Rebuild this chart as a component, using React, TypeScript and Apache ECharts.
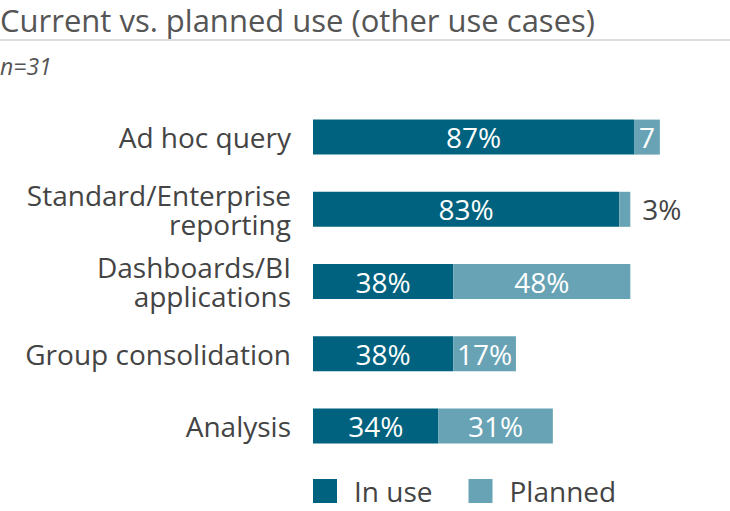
import React, { useEffect, useRef } from "react";
import * as echarts from "echarts";

const categories = [
  "Ad hoc query",
  "Standard/Enterprise\nreporting",
  "Dashboards/BI\napplications",
  "Group consolidation",
  "Analysis",
];
const inUse = [87, 83, 38, 38, 34];
const planned = [7, 3, 48, 17, 31];
const plannedLabels = ["7", "3%", "48%", "17%", "31%"];

const DARK = "#00627e";
const LIGHT = "#67a3b5";
const FONT = "'Open Sans', sans-serif";

export default function App() {
  const ref = useRef<HTMLDivElement>(null);
  useEffect(() => {
    if (!ref.current) return;
    const chart = echarts.init(ref.current, undefined, { renderer: "svg" });
    chart.setOption({
      animation: false,
      textStyle: { fontFamily: FONT },
      title: [
        {
          text: "Current vs. planned use (other use cases)",
          left: -5,
          top: -1,
          textStyle: { fontFamily: FONT, fontSize: 31, fontWeight: "normal", color: "#555" },
        },
        {
          text: "n=31",
          left: -5,
          top: 49,
          textStyle: { fontFamily: FONT, fontSize: 23, fontStyle: "italic", fontWeight: "normal", color: "#555" },
        },
      ],
      graphic: [
        {
          type: "line",
          shape: { x1: 0, y1: 40, x2: 730, y2: 40 },
          style: { stroke: "#dddddd", lineWidth: 2 },
        },
      ],
      legend: {
        left: 308,
        bottom: 1,
        itemWidth: 24,
        itemHeight: 24,
        itemGap: 36,
        icon: "rect",
        textStyle: { fontFamily: FONT, fontSize: 28, color: "#444", padding: [0, 0, 0, 12] },
        data: ["In use", "Planned"],
      },
      grid: { left: 313, right: 48, top: 101, bottom: 49, containLabel: false },
      xAxis: { type: "value", min: 0, max: 100, show: false },
      yAxis: {
        type: "category",
        data: categories,
        inverse: true,
        axisLine: { show: false },
        axisTick: { show: false },
        axisLabel: {
          fontFamily: FONT,
          fontSize: 28,
          color: "#444",
          margin: 22,
          lineHeight: 29,
          align: "right",
        },
      },
      series: [
        {
          name: "In use",
          type: "bar",
          stack: "total",
          barWidth: 35,
          itemStyle: { color: DARK },
          label: {
            show: true,
            position: "inside",
            color: "#fff",
            fontFamily: FONT,
            fontSize: 28,
            formatter: "{c}%",
          },
          data: inUse,
        },
        {
          name: "Planned",
          type: "bar",
          stack: "total",
          barWidth: 35,
          itemStyle: { color: LIGHT },
          data: planned.map((v, i) => ({
            value: v,
            label:
              i === 1
                ? { show: true, position: "right", distance: 12, color: "#444", formatter: plannedLabels[i] }
                : { show: true, position: "inside", color: "#fff", formatter: plannedLabels[i] },
          })),
          label: { show: true, fontFamily: FONT, fontSize: 28 },
        },
      ],
    });
    return () => chart.dispose();
  }, []);
  return <div ref={ref} style={{ width: 730, height: 511, position: "absolute", left: 0, top: 0 }} />;
}
